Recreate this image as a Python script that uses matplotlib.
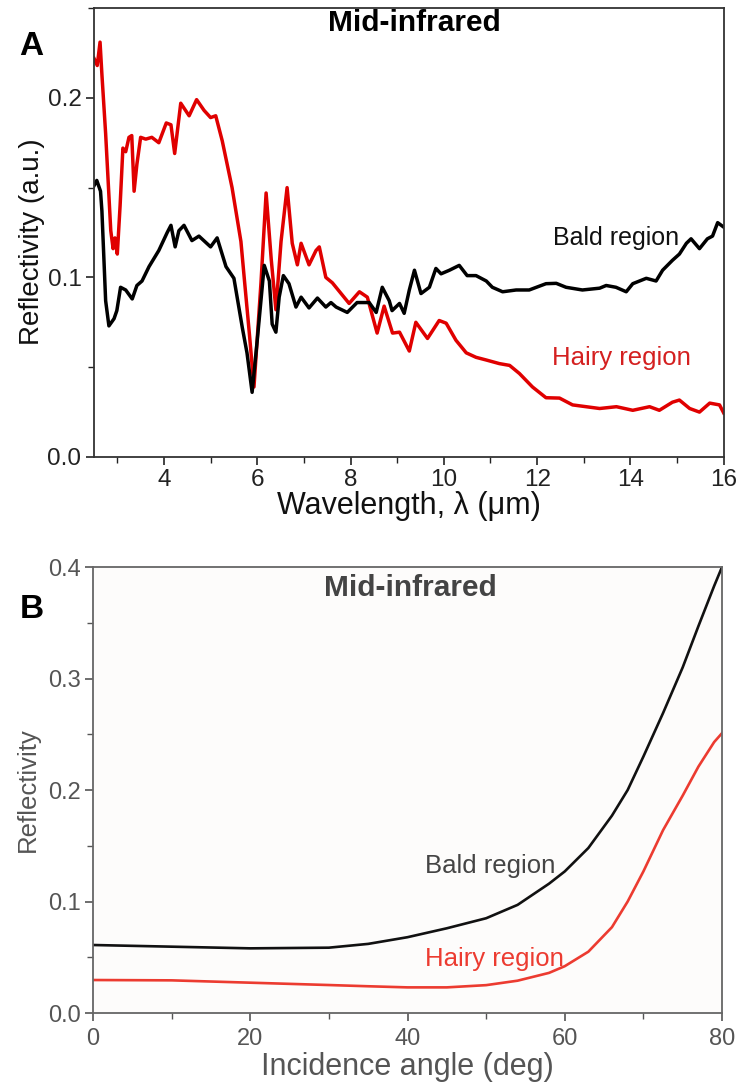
import matplotlib
matplotlib.use("Agg")
import matplotlib.pyplot as plt
from matplotlib.ticker import MultipleLocator

plt.rcParams['font.family'] = ['Liberation Sans', 'DejaVu Sans']

# ---------- Panel A data ----------
hairy_wl = [2.50, 2.57, 2.63, 2.67, 2.75, 2.86, 2.91, 2.95, 3.00, 3.06, 3.12, 3.18, 3.25, 3.31,
            3.36, 3.42, 3.50, 3.61, 3.74, 3.89, 4.05, 4.15, 4.23, 4.36, 4.54, 4.70, 4.86, 5.00,
            5.11, 5.25, 5.46, 5.65, 5.72, 5.83, 5.93, 6.08, 6.19, 6.30, 6.40, 6.51, 6.64, 6.75,
            6.86, 6.94, 7.11, 7.26, 7.33, 7.47, 7.61, 7.97, 8.19, 8.36, 8.57, 8.72, 8.90, 9.05,
            9.26, 9.40, 9.65, 9.90, 10.05, 10.26, 10.48, 10.69, 10.91, 11.19, 11.41, 11.62, 11.90,
            12.19, 12.48, 12.76, 13.34, 13.70, 14.05, 14.41, 14.62, 14.90, 15.05, 15.27, 15.48,
            15.70, 15.91, 16.00]
hairy_r = [0.222, 0.218, 0.231, 0.213, 0.180, 0.126, 0.116, 0.122, 0.113, 0.140, 0.172, 0.170,
           0.178, 0.179, 0.148, 0.163, 0.178, 0.177, 0.178, 0.175, 0.186, 0.185, 0.169, 0.197,
           0.190, 0.199, 0.193, 0.189, 0.190, 0.176, 0.150, 0.120, 0.100, 0.069, 0.039, 0.097,
           0.147, 0.110, 0.082, 0.120, 0.150, 0.119, 0.107, 0.119, 0.107, 0.115, 0.117, 0.100,
           0.097, 0.0855, 0.092, 0.089, 0.069, 0.084, 0.069, 0.0695, 0.059, 0.075, 0.066, 0.076,
           0.0745, 0.065, 0.058, 0.0555, 0.054, 0.052, 0.051, 0.0465, 0.039, 0.033, 0.0328,
           0.029, 0.027, 0.028, 0.026, 0.028, 0.026, 0.0305, 0.0317, 0.027, 0.025, 0.030, 0.029,
           0.0245]

bald_wl = [2.50, 2.56, 2.64, 2.67, 2.75, 2.82, 2.93, 2.99, 3.07, 3.18, 3.32, 3.42, 3.53, 3.68,
           3.89, 4.07, 4.15, 4.24, 4.32, 4.43, 4.60, 4.75, 5.00, 5.14, 5.33, 5.50, 5.68, 5.78,
           5.89, 6.00, 6.15, 6.26, 6.32, 6.40, 6.47, 6.56, 6.68, 6.83, 6.94, 7.11, 7.29, 7.47,
           7.58, 7.69, 7.93, 8.14, 8.40, 8.55, 8.68, 8.83, 8.89, 9.05, 9.15, 9.26, 9.37, 9.51,
           9.69, 9.83, 9.94, 10.12, 10.33, 10.50, 10.69, 10.91, 11.04, 11.26, 11.55, 11.83,
           12.19, 12.41, 12.62, 12.97, 13.34, 13.48, 13.69, 13.91, 14.05, 14.34, 14.55, 14.69,
           14.90, 15.05, 15.20, 15.30, 15.48, 15.65, 15.76, 15.87, 16.00]
bald_r = [0.151, 0.154, 0.148, 0.137, 0.087, 0.073, 0.077, 0.0815, 0.0945, 0.093, 0.088, 0.0955,
          0.098, 0.106, 0.115, 0.125, 0.129, 0.117, 0.126, 0.129, 0.1205, 0.123, 0.117, 0.122,
          0.106, 0.0995, 0.072, 0.058, 0.036, 0.065, 0.1067, 0.098, 0.074, 0.0695, 0.089, 0.101,
          0.0965, 0.0835, 0.089, 0.083, 0.0885, 0.0835, 0.086, 0.0835, 0.0805, 0.086, 0.086,
          0.0805, 0.0945, 0.087, 0.0815, 0.0855, 0.080, 0.093, 0.104, 0.091, 0.0945, 0.105,
          0.102, 0.104, 0.1067, 0.101, 0.101, 0.098, 0.0945, 0.092, 0.093, 0.093, 0.0965,
          0.0967, 0.0945, 0.093, 0.094, 0.0955, 0.0945, 0.092, 0.0965, 0.0995, 0.098, 0.104,
          0.1095, 0.113, 0.119, 0.1215, 0.116, 0.1215, 0.123, 0.1305, 0.128]

# ---------- Panel B data ----------
angle = [0, 10, 20, 30, 35, 40, 45, 50, 54, 58, 60, 63, 66, 68, 70, 72.5, 75, 77, 79, 80]
bald_b = [0.061, 0.0595, 0.058, 0.0586, 0.062, 0.068, 0.076, 0.085, 0.097, 0.116, 0.127,
          0.148, 0.177, 0.200, 0.230, 0.269, 0.310, 0.347, 0.383, 0.400]
hairy_b = [0.0296, 0.0293, 0.0272, 0.0251, 0.024, 0.023, 0.023, 0.025, 0.029, 0.036, 0.042,
           0.055, 0.077, 0.100, 0.127, 0.164, 0.195, 0.221, 0.243, 0.251]

xticks_a = [4, 6, 8, 10, 12, 14, 16]
yticks_a = [0.0, 0.1, 0.2]
xticks_b = [0, 20, 40, 60, 80]
yticks_b = [0.0, 0.1, 0.2, 0.3, 0.4]

fig = plt.figure(figsize=(7.4, 10.86), dpi=100)

# ---------------- Panel A ----------------
axA = fig.add_axes([0.127, 0.5792, 0.851, 0.4134])
axA.plot(hairy_wl, hairy_r, color='#e00000', lw=2.5, solid_joinstyle='round')
axA.plot(bald_wl, bald_r, color='black', lw=2.5, solid_joinstyle='round')
axA.set_xlim(2.5, 16)
axA.set_ylim(0, 0.25)
axA.set_xticks(xticks_a)
axA.set_yticks(yticks_a)
axA.set_yticklabels(['0.0', '0.1', '0.2'])
axA.xaxis.set_minor_locator(MultipleLocator(1))
axA.yaxis.set_minor_locator(MultipleLocator(0.05))
axA.tick_params(which='major', direction='out', length=6, width=1.2, labelsize=17.5,
                colors='#222222', pad=3)
axA.tick_params(which='minor', direction='out', length=4, width=1.0, colors='#222222')
for s in axA.spines.values():
    s.set_color('#333333')
    s.set_linewidth(1.3)
axA.set_xlabel('Wavelength, λ (μm)', fontsize=22, labelpad=0, color='#111111')
axA.set_ylabel('Reflectivity (a.u.)', fontsize=20, color='#111111')
axA.yaxis.set_label_coords(-0.078, 0.48)
axA.text(9.37, 0.2417, 'Mid-infrared', fontsize=21.5, fontweight='bold', ha='center', va='center')
axA.text(13.7, 0.1217, 'Bald region', fontsize=18, ha='center', va='center', color='#111111')
axA.text(13.8, 0.055, 'Hairy region', fontsize=18.5, ha='center', va='center', color='#d42020')
fig.text(0.042, 0.957, 'A', fontsize=24, fontweight='bold', ha='center', va='center')

# ---------------- Panel B ----------------
axB = fig.add_axes([0.1257, 0.0672, 0.85, 0.4107])
axB.set_facecolor('#fdfcfb')
axB.plot(angle, bald_b, color='#111111', lw=1.9)
axB.plot(angle, hairy_b, color='#ec3b30', lw=1.9)
axB.set_xlim(0, 80)
axB.set_ylim(0, 0.4)
axB.set_xticks(xticks_b)
axB.set_yticks(yticks_b)
axB.xaxis.set_minor_locator(MultipleLocator(10))
axB.yaxis.set_minor_locator(MultipleLocator(0.05))
axB.tick_params(which='major', direction='out', length=6, width=1.2, labelsize=17,
                colors='#555555', pad=3)
axB.tick_params(axis='x', which='major', pad=5)
axB.tick_params(which='minor', direction='out', length=4, width=1.0, colors='#555555')
for s in axB.spines.values():
    s.set_color('#666666')
    s.set_linewidth(1.3)
axB.set_xlabel('Incidence angle (deg)', fontsize=22, labelpad=1, color='#555555')
axB.set_ylabel('Reflectivity', fontsize=18.5, labelpad=6, color='#555555')
axB.text(40.3, 0.381, 'Mid-infrared', fontsize=21.5, fontweight='bold', ha='center', va='center', color='#444444')
axB.text(50.5, 0.132, 'Bald region', fontsize=18.5, ha='center', va='center', color='#444444')
axB.text(51.0, 0.048, 'Hairy region', fontsize=18.5, ha='center', va='center', color='#ec3b30')
fig.text(0.043, 0.439, 'B', fontsize=24, fontweight='bold', ha='center', va='center')

fig.savefig('out.png', dpi=100)
